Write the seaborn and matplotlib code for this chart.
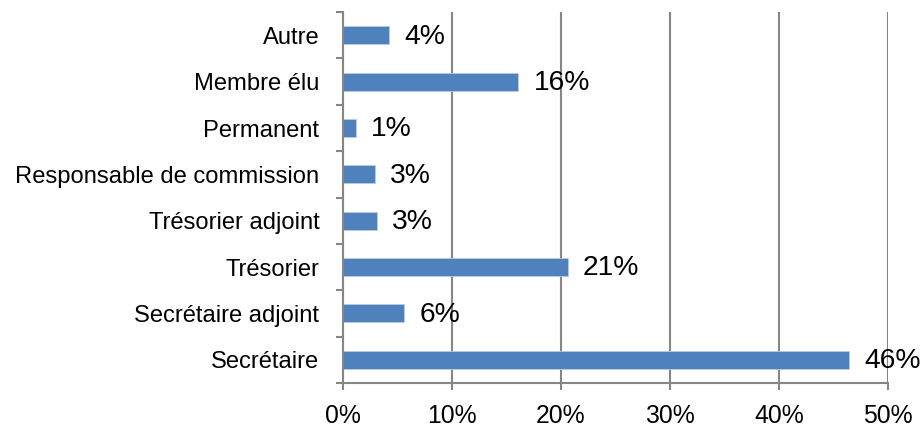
import matplotlib
matplotlib.use("Agg")
import matplotlib.pyplot as plt
import seaborn as sns
import pandas as pd
from matplotlib.ticker import FixedLocator, FuncFormatter

categories = ["Autre", "Membre élu", "Permanent", "Responsable de commission",
              "Trésorier adjoint", "Trésorier", "Secrétaire adjoint", "Secrétaire"]
values = [4.2, 16.1, 1.2, 2.9, 3.1, 20.6, 5.6, 46.4]
labels = ["4%", "16%", "1%", "3%", "3%", "21%", "6%", "46%"]
xticks = [0, 10, 20, 30, 40, 50]

sns.set_theme(style="white")
plt.rcParams['font.family'] = ['Liberation Sans', 'DejaVu Sans']

df = pd.DataFrame({"cat": categories, "val": values})

fig = plt.figure(figsize=(9.21, 4.33), dpi=100)
ax = fig.add_axes([0.3724, 0.1155, 0.9642 - 0.3724, 0.972 - 0.1155])

grid_c = "#868686"
ax.set_xlim(0, 50)
ax.set_xticks(xticks)
ax.xaxis.grid(True, color=grid_c, linewidth=1.5)
ax.set_axisbelow(True)

sns.barplot(data=df, x="val", y="cat", orient="h", color="#4F81BD",
            width=0.39, ax=ax, saturation=1, edgecolor="#b8cce4", linewidth=0.6)
ax.set_ylim(len(categories) - 0.5, -0.5)

for i, (v, lab) in enumerate(zip(values, labels)):
    ax.annotate(lab, xy=(v, i), xytext=(11, -1), textcoords="offset points",
                va="center", ha="left", fontsize=20.3, color="black",
                annotation_clip=False)

ax.xaxis.set_major_formatter(FuncFormatter(lambda x, p: f"{int(x)}%"))
ax.tick_params(axis="x", which="major", length=5, width=1.5, color=grid_c,
               labelsize=17.8, pad=10, bottom=True, direction="out", labelcolor="black")
ax.tick_params(axis="y", which="major", length=0, labelsize=17.1, pad=17,
               labelcolor="black")
ax.yaxis.set_minor_locator(FixedLocator([i - 0.5 for i in range(len(categories) + 1)]))
ax.tick_params(axis="y", which="minor", length=5, width=1.5, color=grid_c, left=True,
               direction="out")
ax.set_xlabel("")
ax.set_ylabel("")

for s in ["top", "right"]:
    ax.spines[s].set_visible(False)
for s in ["left", "bottom"]:
    ax.spines[s].set_color(grid_c)
    ax.spines[s].set_linewidth(1.5)

fig.savefig("out.png", dpi=100)
